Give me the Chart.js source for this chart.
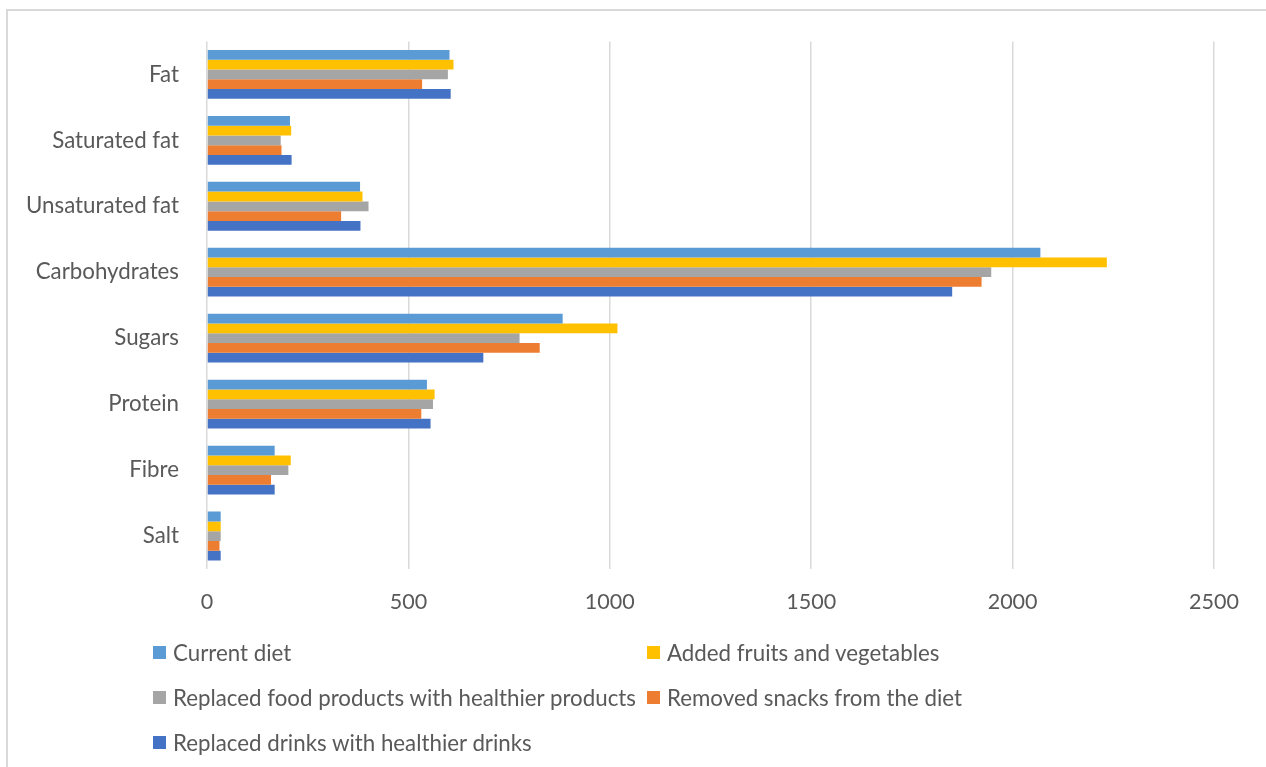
<!DOCTYPE html>
<html>
<head>
<meta charset="utf-8">
<script src="https://cdn.jsdelivr.net/npm/chart.js@4.4.1/dist/chart.umd.min.js"></script>
<style>
  html, body { margin: 0; padding: 0; background: #ffffff; }
  body { width: 1266px; height: 767px; position: relative; overflow: hidden; font-family: Lato, "Open Sans", sans-serif; }
  #frame { position: absolute; left: 6px; top: 9px; right: -10px; bottom: -10px; border-left: 2px solid #d9d9d9; border-top: 2px solid #d9d9d9; }
  #c { position: absolute; left: 0; top: 0; }
  #legend { position: absolute; left: 0; top: 0; width: 1266px; height: 767px; pointer-events: none; }
  .li { position: absolute; display: flex; align-items: center; height: 26px; font-size: 22.3px; color: #595959; white-space: nowrap; }
  .sw { width: 13px; height: 13px; margin-right: 7px; flex: none; }
</style>
</head>
<body>
<div id="frame"></div>
<canvas id="c" width="1266" height="618"></canvas>
<div id="legend"></div>
<script>
const categories = ['Fat', 'Saturated fat', 'Unsaturated fat', 'Carbohydrates', 'Sugars', 'Protein', 'Fibre', 'Salt'];
const seriesNames = ['Current diet', 'Added fruits and vegetables', 'Replaced food products with healthier products', 'Removed snacks from the diet', 'Replaced drinks with healthier drinks'];
const currentDiet = [602, 206, 380, 2069, 883, 546, 168, 34];
const addedFruitsVeg = [612, 209, 386, 2234, 1019, 565, 208, 34];
const replacedFood = [598, 183, 401, 1947, 776, 561, 202, 34];
const removedSnacks = [534, 185, 333, 1923, 826, 532, 159, 31];
const replacedDrinks = [605, 210, 381, 1850, 686, 555, 168, 34];
const xTicks = [0, 500, 1000, 1500, 2000, 2500];
const colors = ['#5B9BD5', '#FFC000', '#A5A5A5', '#ED7D31', '#4472C4'];

const allSeries = [currentDiet, addedFruitsVeg, replacedFood, removedSnacks, replacedDrinks];
const datasets = allSeries.map((d, i) => ({
  label: seriesNames[i],
  data: d,
  backgroundColor: colors[i],
  borderWidth: 0,
  categoryPercentage: 0.74,
  barPercentage: 1.0
}));

const fontFamily = 'Lato, "Open Sans", sans-serif';
new Chart(document.getElementById('c'), {
  type: 'bar',
  data: { labels: categories, datasets: datasets },
  options: {
    indexAxis: 'y',
    responsive: false,
    animation: false,
    devicePixelRatio: 1,
    layout: { padding: { top: 38, right: 52, left: 0, bottom: 0 } },
    plugins: { legend: { display: false }, tooltip: { enabled: false } },
    scales: {
      x: {
        min: xTicks[0],
        max: xTicks[xTicks.length - 1],
        afterBuildTicks: (s) => { s.ticks = xTicks.map(v => ({ value: v })); },
        afterFit: (s) => { s.height = 49; },
        grid: { color: '#d9d9d9', lineWidth: 1.5, drawTicks: false },
        border: { display: false },
        ticks: { color: '#595959', padding: 20, font: { family: fontFamily, size: 21.5 }, callback: (v) => String(v) }
      },
      y: {
        afterFit: (s) => { s.width = 207; },
        grid: { display: false, drawTicks: false },
        border: { display: false },
        ticks: { color: '#595959', padding: 28, font: { family: fontFamily, size: 22.3 } }
      }
    }
  }
});

// Legend (two-column, as in the reference)
const legend = document.getElementById('legend');
const legendPos = [[153, 652], [647, 652], [153, 697], [647, 697], [153, 742]];
seriesNames.forEach((name, i) => {
  const el = document.createElement('div');
  el.className = 'li';
  el.style.left = legendPos[i][0] + 'px';
  el.style.top = (legendPos[i][1] - 13) + 'px';
  const sw = document.createElement('span');
  sw.className = 'sw';
  sw.style.background = colors[i];
  const tx = document.createElement('span');
  tx.textContent = name;
  el.appendChild(sw);
  el.appendChild(tx);
  legend.appendChild(el);
});
</script>
</body>
</html>
